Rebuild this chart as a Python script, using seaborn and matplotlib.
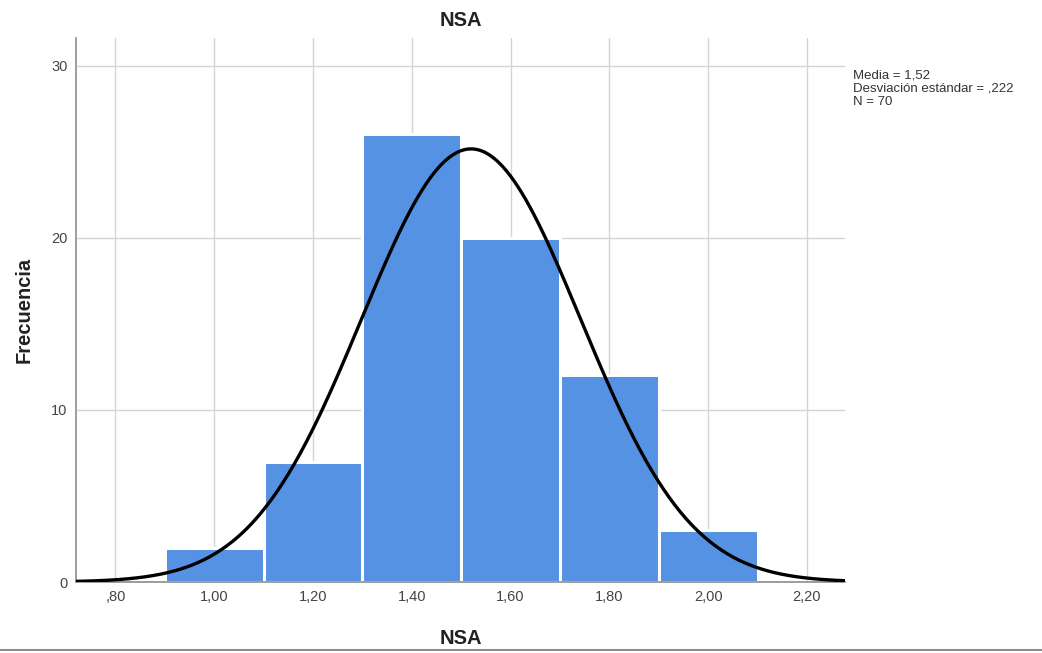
import numpy as np
import pandas as pd
import matplotlib
matplotlib.use("Agg")
import matplotlib.pyplot as plt
import seaborn as sns
from matplotlib.lines import Line2D

# Data
bin_edges = [0.9, 1.1, 1.3, 1.5, 1.7, 1.9, 2.1]
bin_centers = [1.0, 1.2, 1.4, 1.6, 1.8, 2.0]
counts = [2, 7, 26, 20, 12, 3]
mean_val = 1.52
sd_val = 0.222
n_val = 70
xtick_vals = [0.8, 1.0, 1.2, 1.4, 1.6, 1.8, 2.0, 2.2]
xtick_labels = [",80", "1,00", "1,20", "1,40", "1,60", "1,80", "2,00", "2,20"]
ytick_vals = [0, 10, 20, 30]

sns.set_theme(style="white")
plt.rcParams['font.family'] = ['Liberation Sans', 'DejaVu Sans']

fig = plt.figure(figsize=(10.42, 6.53), dpi=100)
ax = fig.add_axes([0.0729, 0.1087, 0.8111 - 0.0729, 0.9418 - 0.1087])

df = pd.DataFrame({"x": bin_centers, "w": counts})
sns.histplot(data=df, x="x", weights="w", bins=bin_edges, ax=ax,
             color="#5592E3", alpha=1.0, edgecolor="white", linewidth=2.2, zorder=2)

# Fitted normal curve
xs = np.linspace(0.72, 2.28, 400)
binw = 0.2
ys = n_val * binw / (sd_val * np.sqrt(2 * np.pi)) * np.exp(-0.5 * ((xs - mean_val) / sd_val) ** 2)
sns.lineplot(x=xs, y=ys, ax=ax, color="black", linewidth=2.4, zorder=3)

ax.set_xlim(0.72, 2.2775)
ax.set_ylim(0, 31.6)
ax.set_xticks(xtick_vals)
ax.set_xticklabels(xtick_labels)
ax.set_yticks(ytick_vals)
ax.grid(True, color="#d4d4d4", linewidth=1.0, zorder=0)
ax.set_axisbelow(True)
for s in ["top", "right"]:
    ax.spines[s].set_visible(False)
for s in ["left", "bottom"]:
    ax.spines[s].set_color("#8c8c8c")
    ax.spines[s].set_linewidth(1.2)
ax.tick_params(axis="both", length=0, labelsize=10.5, labelcolor="#444444", pad=6)

ax.set_title("NSA", fontsize=14.5, fontweight="bold", color="#222222", pad=9)
ax.set_xlabel("NSA", fontsize=14.5, fontweight="bold", color="#222222", labelpad=18)
ax.set_ylabel("Frecuencia", fontsize=14.5, fontweight="bold", color="#222222", labelpad=13)

fig.text(0.8186, 0.893, "Media = 1,52\nDesviación estándar = ,222\nN = 70",
         fontsize=9.5, color="#333333", va="top", ha="left", linespacing=1.12)

fig.add_artist(Line2D([0.0, 1.0], [0.005, 0.005], transform=fig.transFigure,
                      color="#8c8c8c", linewidth=1.5))

fig.savefig("out.png", dpi=100)
